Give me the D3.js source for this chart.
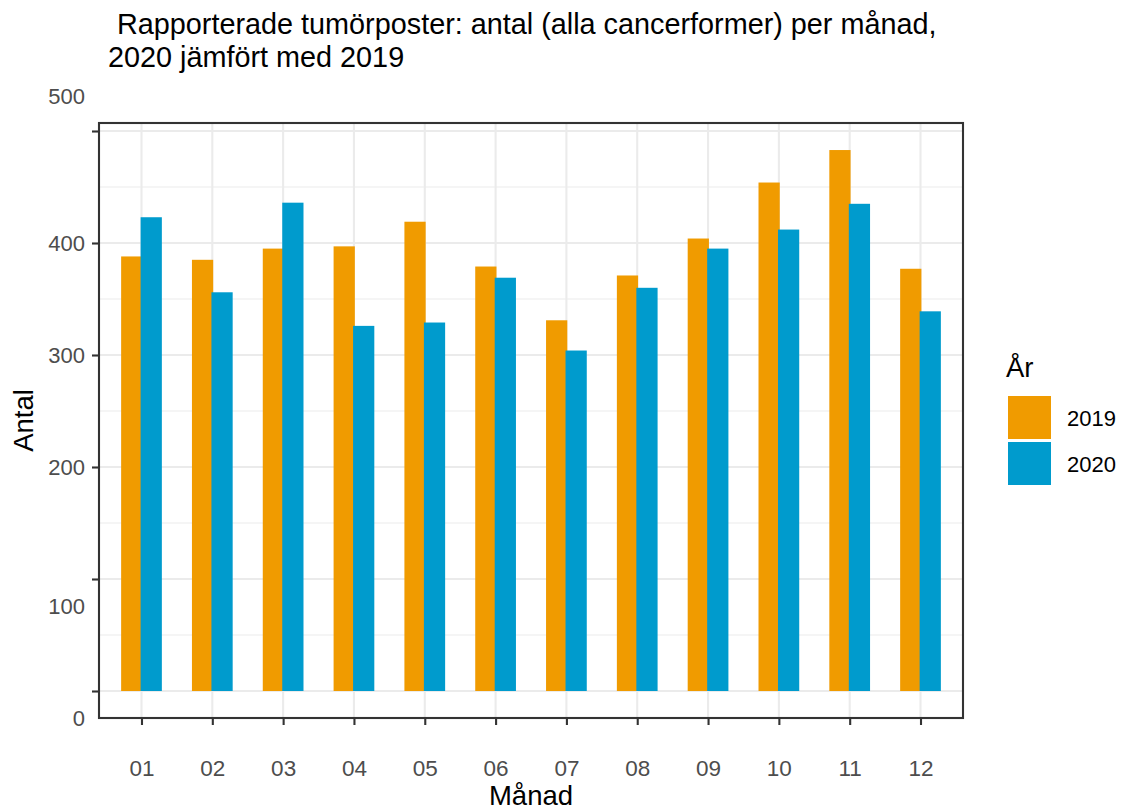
<!DOCTYPE html>
<html>
<head>
<meta charset="utf-8">
<script src="https://cdn.jsdelivr.net/npm/d3@7"></script>
<style>
  html, body { margin: 0; padding: 0; background: #fff; }
  svg { display: block; font-family: "Liberation Sans", Arial, sans-serif; }
</style>
</head>
<body>
<svg id="chart" width="1124" height="811"></svg>
<script>
// ---- data ----
const months = ["01","02","03","04","05","06","07","08","09","10","11","12"];
const years = ["2019","2020"];
const values2019 = [388, 385, 395, 397, 419, 379, 331, 371, 404, 454, 483, 377];
const values2020 = [423, 356, 436, 326, 329, 369, 304, 360, 395, 412, 435, 339];
const yTicks = [0, 100, 200, 300, 400, 500];
const yMinor = [50, 150, 250, 350, 450];
const titleLines = ["Rapporterade tumörposter: antal (alla cancerformer) per månad,", " 2020 jämfört med 2019"];
const xTitle = "Månad";
const yTitle = "Antal";
const legendTitle = "År";

// ---- layout ----
const svg = d3.select("#chart");
const panel = { left: 99, top: 123, right: 963, bottom: 718 };
const colors = { "2019": "#F09B00", "2020": "#009BCD" };
const gridCol = "#EBEBEB";
const axisCol = "#333333";
const textCol = "#4D4D4D";

const x = d3.scalePoint().domain(months).range([panel.left, panel.right]).padding(0.6);
const y = d3.scaleLinear().domain([0, 500]).range([691, 131]);
const step = x.step();
const barW = 0.3 * step;
const dodge = 0.1375 * step;

// grid
const g = svg.append("g");
g.selectAll(".ymin").data(yMinor).join("line")
  .attr("x1", panel.left).attr("x2", panel.right)
  .attr("y1", d => y(d)).attr("y2", d => y(d))
  .attr("stroke", gridCol).attr("stroke-width", 1.1);
g.selectAll(".ymaj").data(yTicks).join("line")
  .attr("x1", panel.left).attr("x2", panel.right)
  .attr("y1", d => y(d)).attr("y2", d => y(d))
  .attr("stroke", gridCol).attr("stroke-width", 2.1);
g.selectAll(".xmaj").data(months).join("line")
  .attr("x1", d => x(d)).attr("x2", d => x(d))
  .attr("y1", panel.top).attr("y2", panel.bottom)
  .attr("stroke", gridCol).attr("stroke-width", 2.1);

// bars
const series = [
  { year: "2019", vals: values2019, off: -dodge },
  { year: "2020", vals: values2020, off: dodge }
];
series.forEach(s => {
  svg.append("g").selectAll("rect").data(months).join("rect")
    .attr("x", (m) => x(m) + s.off - barW / 2)
    .attr("width", barW)
    .attr("y", (m, i) => y(s.vals[i]))
    .attr("height", (m, i) => y(0) - y(s.vals[i]))
    .attr("fill", colors[s.year]);
});

// panel border
svg.append("rect")
  .attr("x", panel.left).attr("y", panel.top)
  .attr("width", panel.right - panel.left).attr("height", panel.bottom - panel.top)
  .attr("fill", "none").attr("stroke", axisCol).attr("stroke-width", 2.1);

// y axis
const yAxis = svg.append("g")
  .attr("transform", `translate(${panel.left},0)`)
  .call(d3.axisLeft(y).tickValues(yTicks).tickSize(7).tickPadding(7).tickFormat(d3.format("d")));
yAxis.select(".domain").remove();
yAxis.selectAll(".tick line").attr("stroke", axisCol).attr("stroke-width", 2.1);
const yLabelShift = { 500: -35, 100: 27, 0: 27 };
yAxis.selectAll(".tick text")
  .attr("fill", textCol).attr("font-size", 22)
  .attr("font-family", "Liberation Sans, Arial, sans-serif")
  .attr("dy", d => (yLabelShift[d] || 0) + 7.5);

// x axis
const xAxis = svg.append("g")
  .attr("transform", `translate(0,${panel.bottom})`)
  .call(d3.axisBottom(x).tickSize(7).tickPadding(33));
xAxis.select(".domain").remove();
xAxis.selectAll(".tick line").attr("stroke", axisCol).attr("stroke-width", 2.1);
xAxis.selectAll(".tick text")
  .attr("fill", textCol).attr("font-size", 22.5)
  .attr("font-family", "Liberation Sans, Arial, sans-serif")
  .attr("dy", 0).attr("y", 58);

// axis titles
svg.append("text").text(xTitle)
  .attr("x", (panel.left + panel.right) / 2).attr("y", 805)
  .attr("text-anchor", "middle").attr("font-size", 27.5).attr("fill", "#000");
svg.append("text").text(yTitle)
  .attr("transform", `translate(33,${(panel.top + panel.bottom) / 2}) rotate(-90)`)
  .attr("text-anchor", "middle").attr("font-size", 27.5).attr("fill", "#000");

// title
svg.append("text").text(titleLines[0])
  .attr("x", 117).attr("y", 34).attr("font-size", 28.8).attr("fill", "#000");
svg.append("text").text(titleLines[1])
  .attr("x", 100).attr("y", 67).attr("font-size", 28.8).attr("fill", "#000")
  .style("white-space", "pre");

// legend
const lg = svg.append("g");
lg.append("text").text(legendTitle)
  .attr("x", 1006).attr("y", 377).attr("font-size", 27.5).attr("fill", "#000");
years.forEach((yr, i) => {
  lg.append("rect")
    .attr("x", 1008).attr("y", 396 + i * 46)
    .attr("width", 43).attr("height", 43)
    .attr("fill", colors[yr]);
  lg.append("text").text(yr)
    .attr("x", 1067).attr("y", 425.5 + i * 46)
    .attr("font-size", 22).attr("fill", "#000");
});
</script>
</body>
</html>
